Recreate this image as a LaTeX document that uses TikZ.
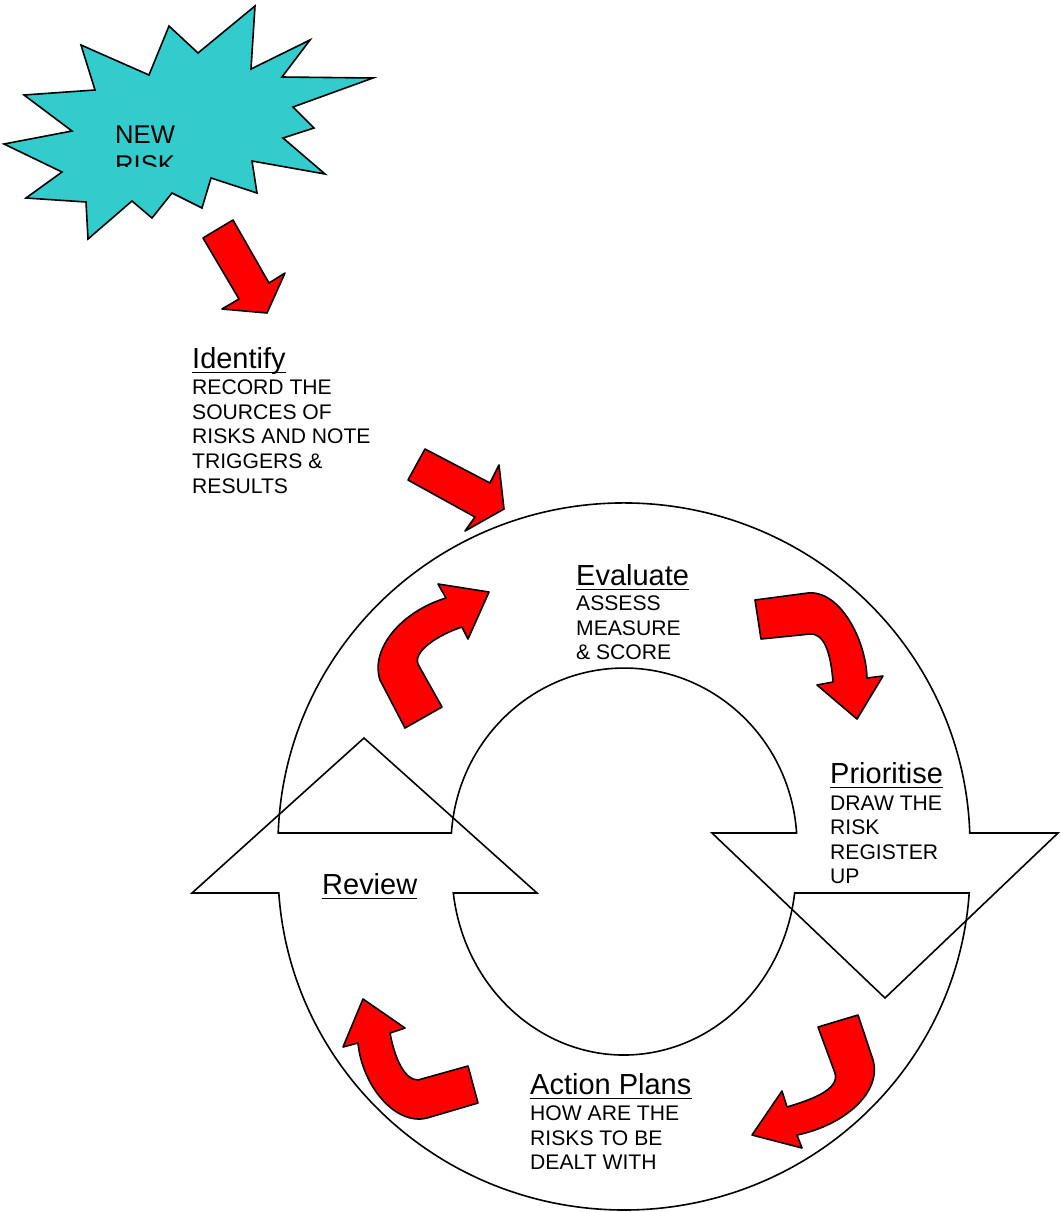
\documentclass[tikz,border=0pt]{standalone}
\usepackage{fontspec}
\newfontfamily\arialfont{Liberation Sans}
\definecolor{burstcol}{HTML}{33CCCC}
\begin{document}
\begin{tikzpicture}[x=1bp,y=-1bp,
  ring/.style={draw=black, line width=1.6bp, line join=miter},
  redarrow/.style={draw=black, fill=red, line width=1.6bp, line join=round},
  burst/.style={draw=black, fill=burstcol, line width=1.6bp, line join=miter},
  ttl/.style={font=\arialfont\fontsize{29.1}{32}\selectfont, inner sep=0pt, anchor=base west},
  bdy/.style={font=\arialfont\fontsize{21.2}{24.5}\selectfont, inner sep=0pt, anchor=base west},
  burstfont/.style={font=\arialfont\fontsize{25.7}{30}\selectfont, inner sep=0pt, anchor=base west},
  uline/.style={line width=1.5bp}]
\useasboundingbox (0,0) rectangle (1061,1212);

% upper half ring with down-pointing head
\draw[ring] (278.2,833) arc[start angle=182, end angle=358, x radius=346, y radius=342]
  -- (1058,833) -- (885,998) -- (712,833) -- (796.6,833)
  arc[start angle=356.1, end angle=183.9, x radius=173, y radius=177] -- cycle;

% lower half ring with up-pointing head
\draw[ring] (969.2,893) arc[start angle=3.88, end angle=176.12, x radius=346, y radius=340]
  -- (192,893) -- (364,738) -- (537,893) -- (453.3,893)
  arc[start angle=172.86, end angle=7.14, x radius=172, y radius=185] -- cycle;

% starburst
\draw[burst] (81,45) -- (149,75) -- (169,26) -- (198,53) -- (255,6) -- (251,69) -- (310,40)
  -- (282,77) -- (373,78) -- (293,107) -- (314,128) -- (283,138) -- (325,174) -- (252,161)
  -- (257,193) -- (211,178) -- (202,208) -- (172,193) -- (152,218) -- (132,201) -- (88,239)
  -- (86,202) -- (26,198) -- (62,172) -- (4,144) -- (72,131) -- (24,95) -- (95,90) -- cycle;
\begin{scope}
  \clip (105,110) rectangle (200,166.5);
  \node[burstfont] (newt) at (115,143) {NEW};
  \node[burstfont] (riskt) at (115,173) {RISK};
\end{scope}

% straight arrow from burst
\draw[redarrow] (203,238) -- (233,220) -- (269,283) -- (285,273) -- (267,313) -- (222,309) -- (239,299) -- cycle;

% straight arrow into ring
\draw[redarrow] (408,480) -- (425,449) -- (490,483) -- (499,465) -- (504,509) -- (465,531) -- (475,517) -- cycle;

% curved arrow upper left
\draw[redarrow] (405,728) -- (380,680) .. controls (370,650) and (400,612) .. (446,598)
  -- (438,584) -- (489,592) -- (468,639) -- (462,627)
  .. controls (440,634) and (410,652) .. (419,666) -- (442,707) -- cycle;

% curved arrow upper right
\draw[redarrow] (755,600) -- (808,593) .. controls (840,590) and (866,640) .. (867,678)
  -- (883,676) -- (857,719) -- (817,685) -- (833,682)
  .. controls (831,655) and (825,633) .. (810,634) -- (761,639) -- cycle;

% curved arrow lower right
\draw[redarrow] (858,1015) -- (873,1060) .. controls (882,1092) and (845,1125) .. (797,1135)
  -- (802,1148) -- (752,1135) -- (782,1091) -- (787,1107)
  .. controls (810,1100) and (840,1090) .. (835,1073) -- (818,1027) -- cycle;

% curved arrow lower left
\draw[redarrow] (478,1103) -- (427,1118) .. controls (395,1126) and (362,1085) .. (358,1043)
  -- (343,1047) -- (363,999) -- (405,1028) -- (390,1033)
  .. controls (395,1060) and (405,1080) .. (418,1080) -- (468,1066) -- cycle;

% texts
\node[ttl] (idt) at (192,368) {Identify};
\draw[uline] ([yshift=-4.5pt]idt.base west) -- ([yshift=-4.5pt]idt.base east);
\node[bdy] (id1) at (192,394) {RECORD THE};
\node[bdy] (id2) at (192,419) {SOURCES OF};
\node[bdy] (id3) at (192,443) {RISKS AND NOTE};
\node[bdy] (id4) at (192,468) {TRIGGERS \&};
\node[bdy] (id5) at (192,493) {RESULTS};

\node[ttl] (evt) at (576,585) {Evaluate};
\draw[uline] ([yshift=-4.5pt]evt.base west) -- ([yshift=-4.5pt]evt.base east);
\node[bdy] (ev1) at (576,610) {ASSESS};
\node[bdy] (ev2) at (576,635) {MEASURE};
\node[bdy] (ev3) at (576,659) {\& SCORE};

\node[ttl] (prt) at (830,783) {Prioritise};
\draw[uline] ([yshift=-4.5pt]prt.base west) -- ([yshift=-4.5pt]prt.base east);
\node[bdy] (pr1) at (830,810) {DRAW THE};
\node[bdy] (pr2) at (830,834) {RISK};
\node[bdy] (pr3) at (830,859) {REGISTER};
\node[bdy] (pr4) at (830,883) {UP};

\node[ttl] (rvt) at (322,894) {Review};
\draw[uline] ([yshift=-4.5pt]rvt.base west) -- ([yshift=-4.5pt]rvt.base east);

\node[ttl] (apt) at (530,1094) {Action Plans};
\draw[uline] ([yshift=-4.5pt]apt.base west) -- ([yshift=-4.5pt]apt.base east);
\node[bdy] (ap1) at (530,1120) {HOW ARE THE};
\node[bdy] (ap2) at (530,1145) {RISKS TO BE};
\node[bdy] (ap3) at (530,1169) {DEALT WITH};
\end{tikzpicture}
\end{document}
